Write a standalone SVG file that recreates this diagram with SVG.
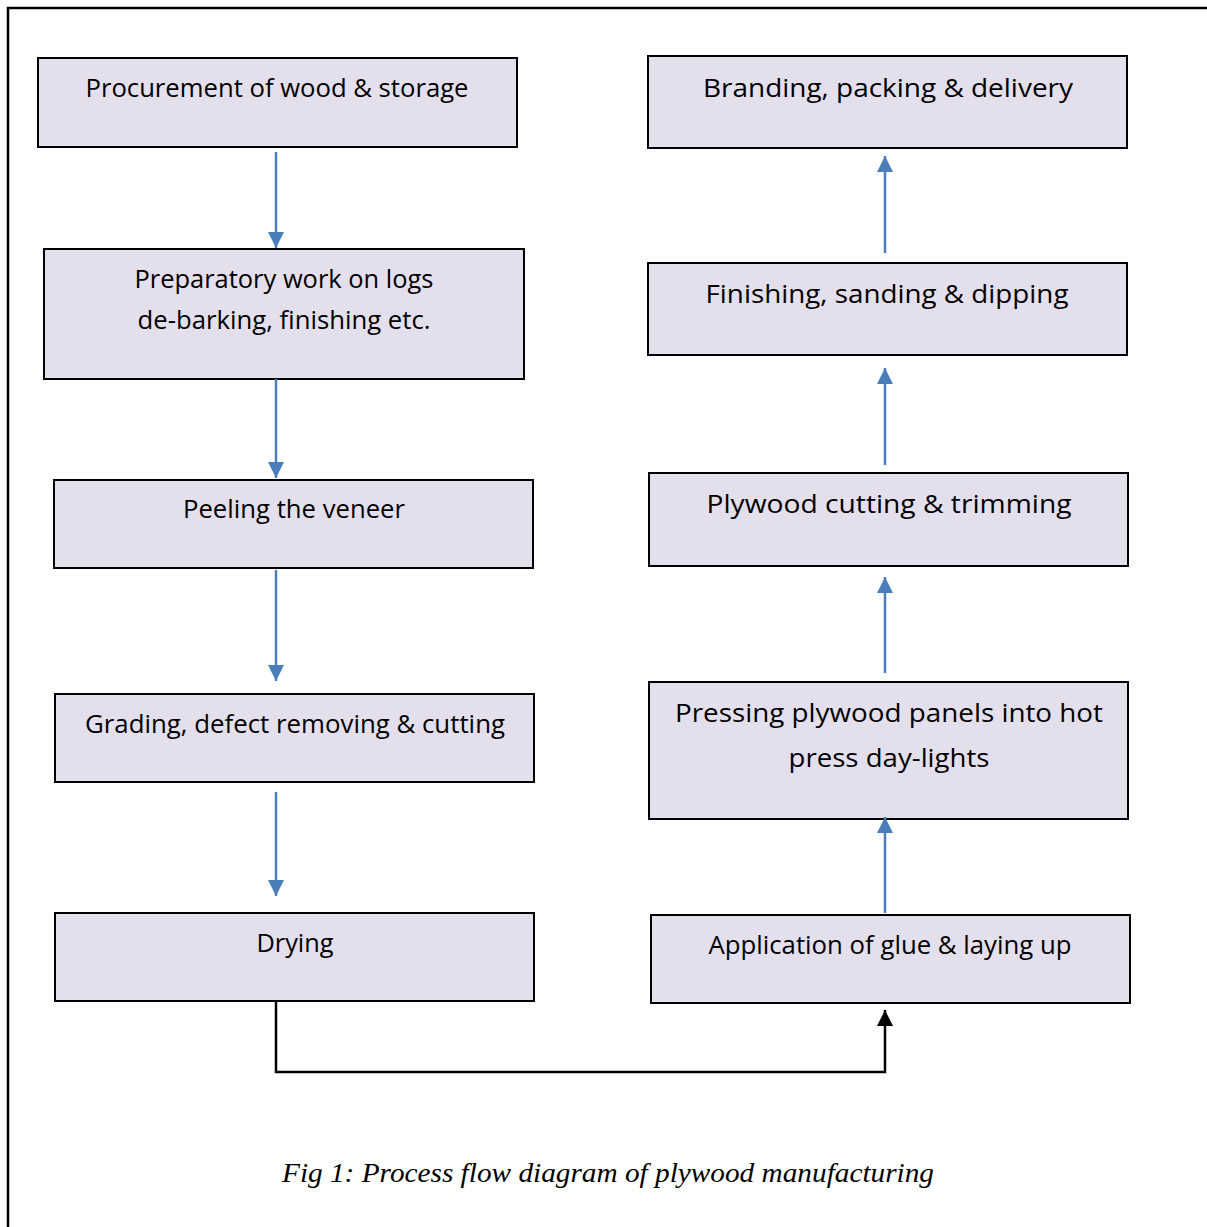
<svg xmlns="http://www.w3.org/2000/svg" width="1207" height="1227" viewBox="0 0 1207 1227">
<style>
.box{fill:#e4dfec;stroke:#000;stroke-width:2}
.t{font-family:"Open Sans","Liberation Sans",sans-serif;font-size:25px;fill:#000;text-anchor:middle}
.cap{font-family:"Liberation Serif",serif;font-style:italic;font-size:28px;fill:#000;text-anchor:middle}
.blue{stroke:#4a7ebb;stroke-width:2.5;fill:none}
.blk{stroke:#000;stroke-width:2.5;fill:none}
</style>
<defs>
<marker id="ab" viewBox="0 0 10 10" refX="10" refY="5" markerWidth="6" markerHeight="6" markerUnits="userSpaceOnUse" orient="auto" style="overflow:visible">
<path d="M0,0 L10,5 L0,10 z" fill="#4a7ebb" transform="scale(1)"/>
</marker>
<marker id="ablue" viewBox="0 0 16 16" refX="16" refY="8" markerWidth="16" markerHeight="16" markerUnits="userSpaceOnUse" orient="auto">
<path d="M0,0 L16,8 L0,16 z" fill="#4a7ebb"/>
</marker>
<marker id="ablack" viewBox="0 0 16 16" refX="16" refY="8" markerWidth="16" markerHeight="16" markerUnits="userSpaceOnUse" orient="auto">
<path d="M0,0 L16,8 L0,16 z" fill="#000"/>
</marker>
</defs>
<rect x="8" y="8" width="1210" height="1230" fill="none" stroke="#000" stroke-width="2.5"/>

<g id="n1"><rect class="box" x="38" y="58" width="479" height="89"/><text class="t" x="277" y="97" textLength="383" lengthAdjust="spacingAndGlyphs">Procurement of wood &amp; storage</text></g>
<g id="n2"><rect class="box" x="44" y="249" width="480" height="130"/><text class="t" x="284" y="288" textLength="299" lengthAdjust="spacingAndGlyphs">Preparatory work on logs</text><text class="t" x="284" y="329" textLength="293" lengthAdjust="spacingAndGlyphs">de-barking, finishing etc.</text></g>
<g id="n3"><rect class="box" x="54" y="480" width="479" height="88"/><text class="t" x="294" y="518" textLength="222" lengthAdjust="spacingAndGlyphs">Peeling the veneer</text></g>
<g id="n4"><rect class="box" x="55" y="694" width="479" height="88"/><text class="t" x="295" y="733" textLength="420" lengthAdjust="spacingAndGlyphs">Grading, defect removing &amp; cutting</text></g>
<g id="n5"><rect class="box" x="55" y="913" width="479" height="88"/><text class="t" x="295" y="952" textLength="77" lengthAdjust="spacingAndGlyphs">Drying</text></g>
<g id="n6"><rect class="box" x="648" y="56" width="479" height="92"/><text class="t" x="888" y="97" textLength="370" lengthAdjust="spacingAndGlyphs">Branding, packing &amp; delivery</text></g>
<g id="n7"><rect class="box" x="648" y="263" width="479" height="92"/><text class="t" x="887" y="303" textLength="363" lengthAdjust="spacingAndGlyphs">Finishing, sanding &amp; dipping</text></g>
<g id="n8"><rect class="box" x="649" y="473" width="479" height="93"/><text class="t" x="889" y="513" textLength="365" lengthAdjust="spacingAndGlyphs">Plywood cutting &amp; trimming</text></g>
<g id="n9"><rect class="box" x="649" y="682" width="479" height="137"/><text class="t" x="889" y="722" textLength="428" lengthAdjust="spacingAndGlyphs">Pressing plywood panels into hot</text><text class="t" x="889" y="767" textLength="201" lengthAdjust="spacingAndGlyphs">press day-lights</text></g>
<g id="n10"><rect class="box" x="651" y="915" width="479" height="88"/><text class="t" x="890" y="954" textLength="363" lengthAdjust="spacingAndGlyphs">Application of glue &amp; laying up</text></g>

<g id="connectors">
<line class="blue" x1="276" y1="152" x2="276" y2="248" marker-end="url(#ablue)"/>
<line class="blue" x1="276" y1="379" x2="276" y2="478" marker-end="url(#ablue)"/>
<line class="blue" x1="276" y1="570" x2="276" y2="681" marker-end="url(#ablue)"/>
<line class="blue" x1="276" y1="792" x2="276" y2="896" marker-end="url(#ablue)"/>
<line class="blue" x1="885" y1="253" x2="885" y2="156" marker-end="url(#ablue)"/>
<line class="blue" x1="885" y1="465" x2="885" y2="368" marker-end="url(#ablue)"/>
<line class="blue" x1="885" y1="673" x2="885" y2="577" marker-end="url(#ablue)"/>
<line class="blue" x1="885" y1="913" x2="885" y2="817" marker-end="url(#ablue)"/>
<polyline class="blk" points="276,1002 276,1072 885,1072 885,1010" marker-end="url(#ablack)"/>
</g>
<text class="cap" x="608" y="1182" textLength="652" lengthAdjust="spacingAndGlyphs">Fig 1: Process flow diagram of plywood manufacturing</text>
</svg>
